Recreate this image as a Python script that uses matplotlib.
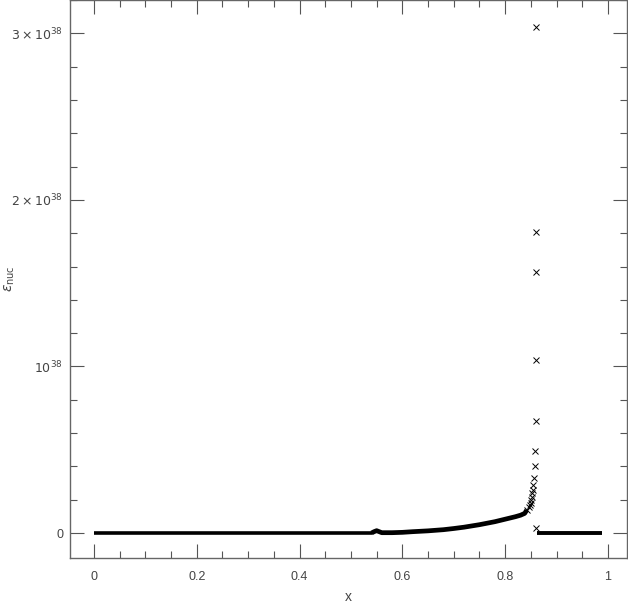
import numpy as np
import matplotlib.pyplot as plt
from matplotlib.ticker import MultipleLocator

# eps_nuc in units of 1e38
scale = 1e38

# flat band below x=0.54 (dense points, drawn as a thick line)
x_flat = [0.0, 0.1, 0.2, 0.3, 0.4, 0.5, 0.54]
y_flat = [0.0, 0.0, 0.0, 0.0, 0.0, 0.0, 0.0]

# rising band
x_band = [0.54, 0.545, 0.55, 0.555, 0.56, 0.58, 0.6, 0.62, 0.65, 0.68, 0.7,
          0.72, 0.75, 0.78, 0.8, 0.82, 0.83, 0.838, 0.842]
y_band = [0.0, 0.008, 0.014, 0.008, 0.002, 0.002, 0.004, 0.008, 0.013, 0.02, 0.027,
          0.035, 0.05, 0.068, 0.083, 0.098, 0.107, 0.118, 0.138]

# separate crosses near the spike
x_spike = [0.842, 0.846, 0.848, 0.850, 0.851, 0.852, 0.853, 0.854, 0.855, 0.856,
           0.858, 0.859, 0.8595, 0.8595, 0.8595, 0.8595, 0.8605]
y_spike = [0.138, 0.156, 0.168, 0.18, 0.198, 0.216, 0.24, 0.26, 0.29, 0.33,
           0.40, 0.49, 0.67, 1.04, 1.57, 1.81, 3.04]

# after the spike
x_dip = [0.8605]
y_dip = [0.03]
x_after = [0.862, 0.9, 0.95, 0.988]
y_after = [0.0, 0.0, 0.0, 0.0]

plt.rcParams['font.family'] = ['Liberation Sans', 'DejaVu Sans']
plt.rcParams['mathtext.fontset'] = 'dejavusans'

fig = plt.figure(figsize=(6.28, 6.04), dpi=100)
ax = fig.add_axes([70/628, 46/604, 557/628, 558/604])

ax.plot(x_flat, np.array(y_flat)*scale, color='black', lw=2.6, solid_capstyle='butt')
ax.plot(x_band, np.array(y_band)*scale, color='black', lw=3.4, solid_capstyle='butt')
ax.plot(x_spike, np.array(y_spike)*scale, 'x', color='black', ms=4, mew=0.7)
ax.plot(x_dip, np.array(y_dip)*scale, 'x', color='black', ms=4, mew=0.7)
ax.plot(x_after, np.array(y_after)*scale, color='black', lw=2.8, solid_capstyle='butt')

ax.set_xlim(-0.0465, 1.037)
ax.set_ylim(-0.15*scale, 3.2*scale)

ax.set_xticks([0, 0.2, 0.4, 0.6, 0.8, 1.0])
ax.set_xticklabels(['0', '0.2', '0.4', '0.6', '0.8', '1'])
ax.xaxis.set_minor_locator(MultipleLocator(0.05))
ax.set_yticks([0, 1*scale, 2*scale, 3*scale])
ax.set_yticklabels(['0', r'$10^{38}$', r'$2\times10^{38}$', r'$3\times10^{38}$'])
ax.yaxis.set_minor_locator(MultipleLocator(0.2*scale))

ax.tick_params(which='both', direction='in', top=True, right=True, colors='#555555',
               labelcolor='#444444', labelsize=9)
ax.tick_params(which='major', length=10, width=0.8)
ax.tick_params(which='minor', length=5, width=0.8)
ax.tick_params(axis='x', which='major', pad=9)
ax.tick_params(axis='y', which='major', pad=5)
for s in ax.spines.values():
    s.set_color('#666666')
    s.set_linewidth(1.0)

ax.set_xlabel('x', fontsize=10, color='#444444')
ax.xaxis.set_label_coords(0.5, -32/558)
ax.set_ylabel(r'$\epsilon_{\rm nuc}$', fontsize=10, color='#444444')
ax.yaxis.set_label_coords(-53/557, 0.5)

fig.savefig('out.png', dpi=100)
